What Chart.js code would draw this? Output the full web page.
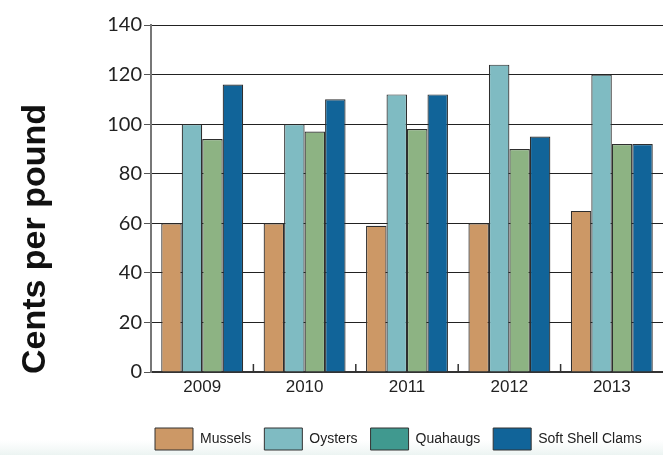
<!DOCTYPE html>
<html><head><meta charset="utf-8">
<script src="https://cdn.jsdelivr.net/npm/chart.js@4/dist/chart.umd.min.js"></script>
<style>html,body{margin:0;padding:0;background:#fff;overflow:hidden}#wrap{width:663px;height:455px;position:relative}</style>
</head><body><div id="wrap"><canvas id="c"></canvas></div>
<script>
const years = ['2009', '2010', '2011', '2012', '2013'];
const mussels = [60, 60, 59, 60, 65];
const oysters = [100, 100, 112, 124, 120];
const quahaugs = [94, 97, 98, 90, 92];
const softShellClams = [116, 110, 112, 95, 92];
const seriesNames = ['Mussels', 'Oysters', 'Quahaugs', 'Soft Shell Clams'];
const yTickValues = [0, 20, 40, 60, 80, 100, 120, 140];
const yTitle = 'Cents per pound';

const barColors = ['#cc9866', '#7fbbc2', '#8db383', '#116499'];
const legendColors = ['#cc9866', '#7fbbc2', '#40998f', '#116499'];

const bgPlugin = {
  id: 'bg',
  beforeDraw(chart) {
    const ctx = chart.ctx;
    ctx.save();
    ctx.fillStyle = '#ffffff';
    ctx.fillRect(0, 0, chart.width, chart.height);
    const g = ctx.createLinearGradient(0, 440, 0, chart.height);
    g.addColorStop(0, 'rgba(240,246,245,0)');
    g.addColorStop(1, 'rgba(236,244,242,1)');
    ctx.fillStyle = g;
    ctx.fillRect(0, 440, chart.width, chart.height - 440);
    ctx.restore();
  }
};

const legendPlace = {
  id: 'legendPlace',
  afterLayout(chart) {
    const lg = chart.legend;
    const p = lg.options.labels.padding;
    const w = lg.right - lg.left;
    lg.left = 155 - p;
    lg.right = lg.left + w + 200;
    lg.top = 428 - p;
    lg.bottom = lg.top + 60;
  }
};

const extras = {
  id: 'extras',
  afterDraw(chart) {
    const ctx = chart.ctx;
    const xs = chart.scales.x;
    const bottom = chart.chartArea.bottom;
    ctx.save();
    ctx.strokeStyle = '#333';
    ctx.lineWidth = 1.5;
    for (let i = 0; i < years.length - 1; i++) {
      const x = (xs.getPixelForValue(i) + xs.getPixelForValue(i + 1)) / 2;
      ctx.beginPath();
      ctx.moveTo(x, bottom - 8);
      ctx.lineTo(x, bottom);
      ctx.stroke();
    }
    ctx.translate(45, 239);
    ctx.rotate(-Math.PI / 2);
    ctx.font = 'bold 34px "Liberation Sans", Arial, sans-serif';
    ctx.fillStyle = '#111';
    ctx.textAlign = 'center';
    ctx.textBaseline = 'alphabetic';
    ctx.fillText(yTitle, 0, 0);
    ctx.restore();
  }
};

const seriesData = [mussels, oysters, quahaugs, softShellClams];

new Chart(document.getElementById('c'), {
  type: 'bar',
  data: {
    labels: years,
    datasets: seriesNames.map((name, i) => ({
      label: name,
      data: seriesData[i],
      backgroundColor: barColors[i],
      borderColor: '#2e2e2e',
      borderWidth: 1.2,
      barPercentage: 1,
      categoryPercentage: 0.8
    }))
  },
  options: {
    responsive: true,
    maintainAspectRatio: false,
    animation: false,
    devicePixelRatio: 1,
    layout: { padding: { top: 25, left: 0, right: 0, bottom: 0 } },
    plugins: {
      tooltip: { enabled: false },
      legend: {
        position: 'bottom',
        align: 'start',
        labels: {
          boxWidth: 38,
          boxHeight: 22,
          padding: 13,
          color: '#222',
          font: { family: '"Liberation Sans", Arial, sans-serif', size: 14 },
          generateLabels(chart) {
            const items = Chart.defaults.plugins.legend.labels.generateLabels(chart);
            items.forEach((it, i) => { it.fillStyle = legendColors[i]; it.strokeStyle = '#333'; it.lineWidth = 1; });
            return items;
          }
        }
      }
    },
    scales: {
      x: {
        offset: true,
        grid: { display: false, drawTicks: false },
        border: { display: true, color: '#333', width: 2 },
        ticks: { color: '#222', padding: 5, font: { family: '"Liberation Sans", Arial, sans-serif', size: 17 } },
        afterFit(scale) {
          const lh = scale.chart.legend ? scale.chart.legend.height : 0;
          scale.height = Math.max(20, 455 - 372 - lh);
        }
      },
      y: {
        min: 0,
        max: 140,
        afterBuildTicks(scale) { scale.ticks = yTickValues.map(v => ({ value: v })); },
        grid: { color: '#222', lineWidth: 1, tickLength: 7, tickColor: '#555' },
        border: { display: true, color: '#777', width: 2 },
        ticks: { color: '#222', padding: 2, font: { family: 'Lato, "Open Sans", sans-serif', size: 20 } },
        afterFit(scale) { scale.width = 151; }
      }
    }
  },
  plugins: [bgPlugin, legendPlace, extras]
});
</script>
</body></html>
